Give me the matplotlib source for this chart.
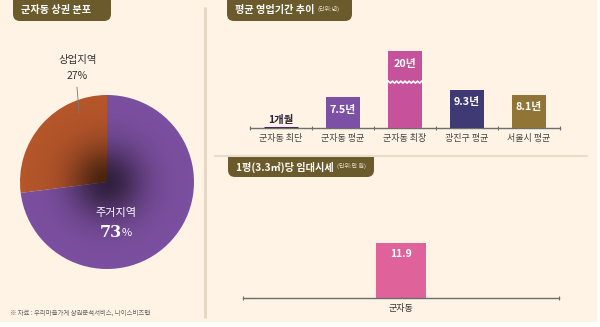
import numpy as np
import matplotlib
matplotlib.use('Agg')
import matplotlib.pyplot as plt
from matplotlib.patches import FancyBboxPatch, Rectangle, Circle

plt.rcParams['font.family'] = ['Noto Sans CJK KR', 'DejaVu Sans']

# ---------------- data ----------------
pie_labels = ['상업지역', '주거지역']
pie_values = [27, 73]

period_cats = ['군자동 최단', '군자동 평균', '군자동 최장', '광진구 평균', '서울시 평균']
period_vals = [1 / 12, 7.5, 20, 9.3, 8.1]
period_text = ['1개월', '7.5년', '20년', '9.3년', '8.1년']

rent_cats = ['군자동']
rent_vals = [11.9]

# ---------------- style ----------------
CREAM = '#FEF3E4'
BROWN = '#6B5A2C'
pie_colors = ['#B4552A', '#7B4F9F']
period_colors = ['#4A2568', '#7C50A5', '#C5529B', '#3F3A73', '#917536']
rent_color = '#E0629B'

W, H = 600, 327
fig = plt.figure(figsize=(6, 3.27), dpi=100, facecolor='white')


def ax_px(x0, y0, x1, y1):
    return fig.add_axes([x0 / W, 1 - y1 / H, (x1 - x0) / W, (y1 - y0) / H])


# background axes in pixel coords
bg = fig.add_axes([0, 0, 1, 1])
bg.set_xlim(0, W)
bg.set_ylim(H, 0)
bg.axis('off')
bg.add_patch(Rectangle((0, 0), 597, 322, facecolor=CREAM, edgecolor='none'))
bg.plot([205, 205], [7, 318], color='#E4D7C4', lw=2, solid_capstyle='butt')
bg.plot([215, 587], [156, 156], color='#E8DCCB', lw=1.5)


def title_box(x0, x1, y0, y1, text, sub=None):
    p = FancyBboxPatch((x0, y0 - 10), x1 - x0, y1 - y0 + 10,
                       boxstyle='round,pad=0,rounding_size=7',
                       facecolor=BROWN, edgecolor='none')
    bg.add_patch(p)
    p.set_clip_path(Rectangle((x0, y0), x1 - x0, y1 - y0, transform=bg.transData))
    cy = (y0 + y1) / 2
    t = bg.text(x0 + 8, cy, text, color='white', fontsize=7.3, fontweight='bold',
                ha='left', va='center')
    if sub:
        bg.annotate(sub, xy=(1, 0.62), xycoords=t, xytext=(2, 0),
                    textcoords='offset points', color='#EDE3CF', fontsize=4.3,
                    ha='left', va='center')


title_box(13, 111, 0, 21, '군자동 상권 분포')
title_box(227, 352, 0, 21, '평균 영업기간 추이', '(단위:년)')
title_box(228, 374, 157, 177, '1평(3.3㎡)당 임대시세', '(단위:만 원)')

bg.text(10, 313, '※ 자료 : 우리마을가게 상권분석서비스, 나이스비즈맵', fontsize=4.6,
        color='#666666', ha='left', va='center')

# ---------------- pie ----------------
pax = ax_px(20, 95, 194, 269)
wedges, _ = pax.pie(pie_values, colors=pie_colors, startangle=90, counterclock=True,
                    radius=1)
pax.set_xlim(-1, 1)
pax.set_ylim(-1, 1)
pax.set_aspect('equal')
pax.axis('off')
g = np.linspace(-1, 1, 300)
X, Y = np.meshgrid(g, g)
R = np.sqrt(X ** 2 + Y ** 2)
A = 0.6 * np.exp(-(R / 0.42) ** 2)
img = np.zeros((300, 300, 4))
img[..., 3] = A
im = pax.imshow(img, extent=(-1, 1, -1, 1), origin='lower', zorder=3)
im.set_clip_path(Circle((0, 0), 1, transform=pax.transData))

pax.text(-0.34, 1.40, pie_labels[0], ha='center', va='center', fontsize=7.5,
         color='#333333', clip_on=False)
pax.text(-0.34, 1.22, f'{pie_values[0]}%', ha='center', va='center', fontsize=7.5,
         color='#333333', clip_on=False)
pax.plot([-0.345, -0.32], [1.09, 0.79], color='#777777', lw=0.6, zorder=5, clip_on=False)
pax.text(0.1, -0.36, pie_labels[1], ha='center', va='center', fontsize=8,
         color='white', zorder=6)
pax.text(0.17, -0.575, f'{pie_values[1]}', ha='right', va='center', fontsize=11.5,
         color='white', fontweight='bold', family='DejaVu Serif', zorder=6)
pax.text(0.17, -0.59, '%', ha='left', va='center', fontsize=8,
         color='white', zorder=6)

# ---------------- period bar chart ----------------
ax1 = ax_px(250, 51, 560, 128)
x1 = np.arange(len(period_cats))
ymax1 = 18.8
bars = ax1.bar(x1, period_vals, width=0.54, color=period_colors, zorder=2)
bars[0].set_linewidth(2.2)
bars[0].set_edgecolor(period_colors[0])
ax1.set_xlim(-0.5, len(period_cats) - 0.5)
ax1.set_ylim(0, ymax1)
ax1.set_facecolor('none')
for s in ['top', 'right', 'left']:
    ax1.spines[s].set_visible(False)
ax1.spines['bottom'].set_color('#6E6E6E')
ax1.spines['bottom'].set_linewidth(1)
ax1.spines['bottom'].set_zorder(1)
ax1.set_yticks([])
ax1.set_xticks(np.arange(-0.5, len(period_cats), 1.0))
ax1.set_xticklabels([])
ax1.tick_params(axis='x', direction='inout', length=3, color='#6E6E6E', width=0.8)
for i, c in enumerate(period_cats):
    ax1.text(i, -2.5, c, ha='center', va='center', fontsize=6.5, color='#444444',
             clip_on=False)
for i, (v, t) in enumerate(zip(period_vals, period_text)):
    if i == 0:
        ax1.annotate(t, (i, v), xytext=(0, 5.5), textcoords='offset points',
                     ha='center', va='center', fontsize=7.5, fontweight='bold',
                     color='#2E2438')
    else:
        top = min(v, ymax1)
        ax1.annotate(t, (i, top), xytext=(0, -9), textcoords='offset points',
                     ha='center', va='center', fontsize=7.8, fontweight='bold',
                     color='white')
# broken-bar zigzag on the longest bar
bi = int(np.argmax(period_vals))
zx = np.linspace(bi - 0.27, bi + 0.27, 17)
zy = 11.2 + np.where(np.arange(17) % 2 == 0, 0.25, -0.25)
ax1.plot(zx, zy, color='white', lw=1.2, zorder=3)

# ---------------- rent bar chart ----------------
ax2 = ax_px(243, 200, 559, 298)
x2 = np.arange(len(rent_cats))
ax2.bar(x2, rent_vals, width=1.0, color=rent_color, zorder=2)
ax2.set_xlim(-3.16, 3.16)
ax2.set_ylim(0, 21.2)
ax2.set_facecolor('none')
for s in ['top', 'right', 'left']:
    ax2.spines[s].set_visible(False)
ax2.spines['bottom'].set_color('#6E6E6E')
ax2.spines['bottom'].set_linewidth(1)
ax2.set_yticks([])
ax2.set_xticks([-3.16, 3.16])
ax2.set_xticklabels([])
ax2.tick_params(axis='x', direction='inout', length=3, color='#6E6E6E', width=0.8)
for i, (c, v) in enumerate(zip(rent_cats, rent_vals)):
    ax2.text(i, -2.2, c, ha='center', va='center', fontsize=6.5, color='#333333',
             clip_on=False)
    ax2.annotate(f'{v}', (i, v), xytext=(0, -8), textcoords='offset points',
                 ha='center', va='center', fontsize=7.5, fontweight='bold', color='white')

fig.savefig('out.png', dpi=100, facecolor='white')
